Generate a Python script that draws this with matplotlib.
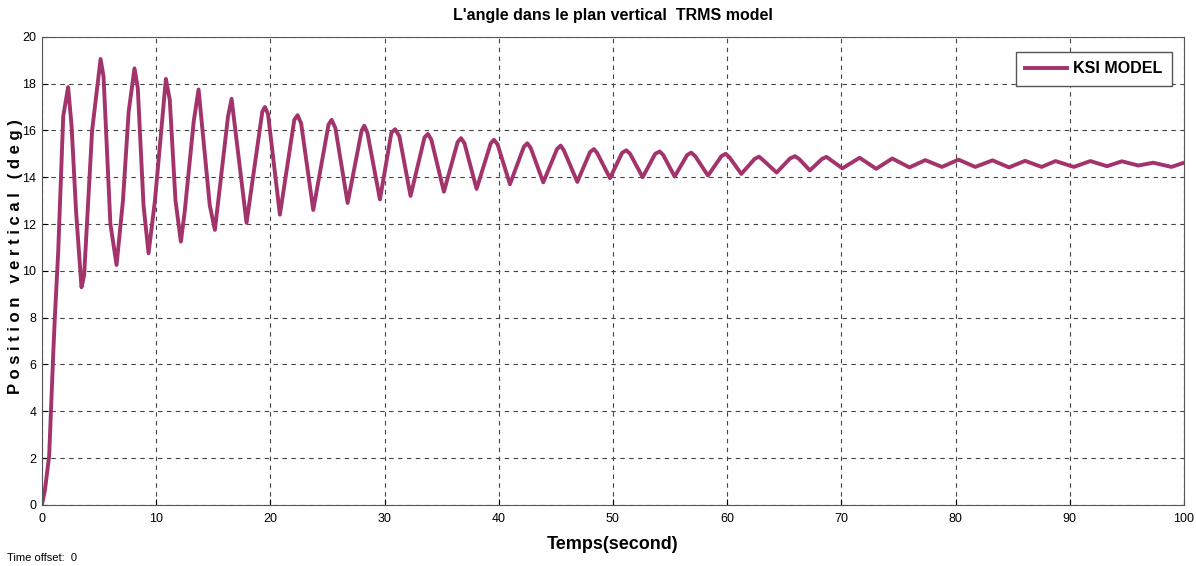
import matplotlib.pyplot as plt

plt.rcParams['font.family'] = ['Liberation Sans Narrow', 'Liberation Sans', 'DejaVu Sans']

# time (s) and vertical position (deg)
t = [0.0, 0.26, 0.64, 1.0, 1.14, 1.43, 1.87, 2.3, 2.6, 3.0, 3.47, 3.7,
     4.4, 5.14, 5.4, 6.0, 6.54, 7.1, 7.6, 8.11, 8.4, 8.9, 9.34, 9.9, 10.86, 11.2,
     11.7, 12.17, 12.5, 13.3, 13.72, 14.7, 15.15, 16.3, 16.61, 17.92, 19.3, 19.53,
     19.8, 20.84, 22.1, 22.39, 22.7, 23.76, 25.1, 25.37, 25.7, 26.77, 28.0, 28.23,
     28.5, 29.6, 30.6, 30.93, 31.3, 32.28, 33.5, 33.8, 34.1, 35.2,
     36.4, 36.7, 37.0, 38.06, 39.3, 39.58, 39.9, 40.98, 42.2, 42.5, 42.8, 43.9,
     45.1, 45.42, 45.7, 46.88, 48.0, 48.33, 48.6, 49.74, 50.8, 51.17, 51.5,
     52.6, 53.7, 54.09, 54.4, 55.4, 56.5, 56.86, 57.2, 58.32, 59.5, 59.87, 60.2,
     61.24, 62.4, 62.79, 63.1, 64.33, 65.5, 65.93, 66.3, 67.24,
     68.3, 68.69, 69.0, 70.09, 71.6, 73.05, 74.45, 75.96, 77.35, 78.8, 80.26,
     81.72, 83.23, 84.68, 86.08, 87.53, 88.75, 90.35, 91.8, 93.26, 94.56, 96.0,
     97.3, 98.9, 100.0]
pos = [0.0, 0.6, 2.1, 6.5, 8.05, 10.8, 16.6, 17.85, 16.2, 12.5, 9.3, 9.8,
       16.0, 19.05, 18.3, 12.0, 10.25, 13.0, 16.8, 18.65, 17.8, 12.8, 10.75, 13.0,
       18.2, 17.3, 13.0, 11.25, 12.5, 16.4, 17.75, 12.8, 11.75, 16.6, 17.35, 12.05,
       16.8, 17.0, 16.7, 12.4, 16.45, 16.65, 16.3, 12.6, 16.25, 16.45, 16.1, 12.9,
       16.0, 16.2, 15.9, 13.05, 15.9, 16.05, 15.75, 13.2, 15.7, 15.85, 15.6, 13.38,
       15.5, 15.67, 15.45, 13.5, 15.45, 15.6, 15.4, 13.7, 15.3, 15.45, 15.25,
       13.78, 15.2, 15.35, 15.15, 13.8, 15.08, 15.2, 15.05, 13.96, 15.04, 15.15,
       15.0, 14.0, 15.0, 15.1, 14.95, 14.03, 14.95, 15.05, 14.9, 14.07, 14.9, 15.0,
       14.85, 14.14, 14.78, 14.88, 14.75, 14.2, 14.8, 14.9, 14.78, 14.29, 14.78,
       14.87, 14.76, 14.38, 14.83, 14.36, 14.8, 14.42, 14.73, 14.44, 14.75, 14.44,
       14.72, 14.42, 14.7, 14.44, 14.69, 14.44, 14.69, 14.47, 14.68, 14.5, 14.62,
       14.44, 14.62]

x_ticks = list(range(0, 101, 10))
y_ticks = list(range(0, 21, 2))

line_color = '#A3336B'

fig = plt.figure(figsize=(11.96, 5.66), dpi=100)
ax = fig.add_axes([0.035, 0.108, 0.955, 0.827])

ax.plot(t, pos, color=line_color, linewidth=2.8, label='KSI MODEL',
        solid_joinstyle='round')

ax.set_xlim(0, 100)
ax.set_ylim(0, 20)
ax.set_xticks(x_ticks)
ax.set_yticks(y_ticks)
ax.tick_params(direction='in', labelsize=9, length=4)
ax.tick_params(axis='x', pad=6)
ax.tick_params(axis='y', pad=4)
ax.grid(True, linestyle=(0, (4, 4)), color='#444444', linewidth=0.8)
for s in ax.spines.values():
    s.set_color('#555555')

ax.set_title("L'angle dans le plan vertical  TRMS model", fontsize=11.5,
             fontweight='bold', pad=12)
ax.set_xlabel('Temps(second)', fontsize=13, fontweight='bold', labelpad=8)
ax.set_ylabel('P o s i t i o n   v e r t i c a l   ( d e g )', fontsize=12,
              fontweight='bold')
ax.yaxis.set_label_coords(-0.0165, 0.53)

leg = ax.legend(loc='upper right', fontsize=11.5, handlelength=2.6,
                handletextpad=0.4, fancybox=False, framealpha=1, borderpad=0.6,
                bbox_to_anchor=(0.9965, 0.985))
leg.get_frame().set_edgecolor('#555555')
for txt in leg.get_texts():
    txt.set_fontweight('bold')

fig.text(0.006, 0.008, 'Time offset:  0', fontsize=8)

fig.savefig('out.png', dpi=100)
plt.close(fig)
